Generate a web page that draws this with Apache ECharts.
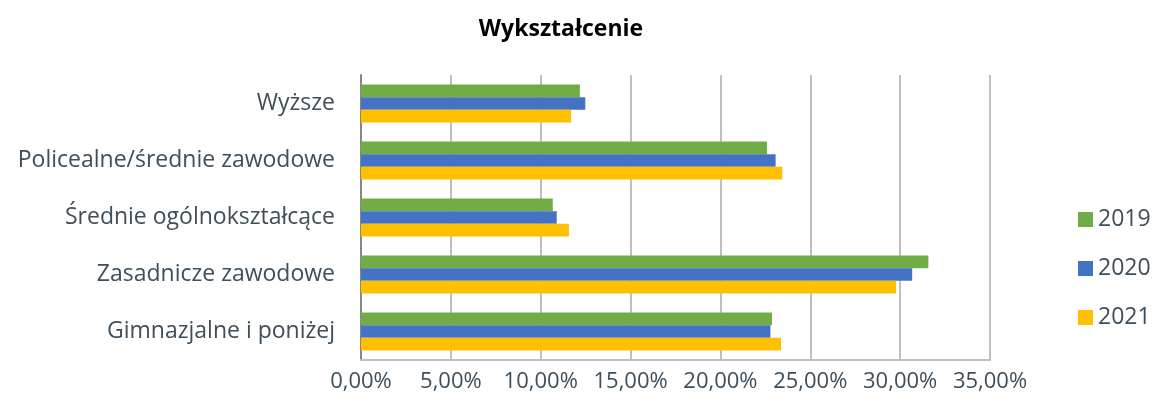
<!DOCTYPE html>
<html><head><meta charset="utf-8">
<script src="https://cdn.jsdelivr.net/npm/echarts@6/dist/echarts.min.js"></script>
<style>html,body{margin:0;padding:0;background:#fff}#c{width:1152px;height:405px}</style>
</head><body><div id="c"></div>
<script>
const categories = ['Gimnazjalne i poniżej', 'Zasadnicze zawodowe', 'Średnie ogólnokształcące', 'Policealne/średnie zawodowe', 'Wyższe'];
const s2019 = [22.87, 31.57, 10.67, 22.59, 12.18];
const s2020 = [22.78, 30.67, 10.89, 23.07, 12.48];
const s2021 = [23.37, 29.78, 11.57, 23.44, 11.69];
const seriesNames = ['2019', '2020', '2021'];
const ticks = [0, 5, 10, 15, 20, 25, 30, 35];

const txt = '#3E4F5B';
const font = 'Open Sans';
const chart = echarts.init(document.getElementById('c'));
const fmt = v => v.toFixed(2).replace('.', ',') + '%';
chart.setOption({
  animation: false,
  title: { text: 'Wykształcenie', left: 556, top: 13, textAlign: 'center',
    textStyle: { fontFamily: font, fontWeight: 'bold', fontSize: 23, color: '#000' } },
  legend: { data: seriesNames, orient: 'vertical', left: 1073, top: 203, itemWidth: 15, itemHeight: 15,
    itemGap: 26, textStyle: { fontFamily: font, fontSize: 23, color: txt }, icon: 'rect' },
  grid: { left: 361, right: 162, top: 75, bottom: 45, containLabel: false },
  xAxis: { type: 'value', min: ticks[0], max: ticks[ticks.length - 1], interval: 5,
    axisLabel: { formatter: fmt, fontFamily: font, fontSize: 22, color: txt, margin: 11 },
    splitLine: { show: true, lineStyle: { color: '#BFBFBF', width: 2 } },
    axisLine: { show: true, lineStyle: { color: '#BFBFBF', width: 2 } },
    axisTick: { show: true, length: 0 } },
  yAxis: { type: 'category', data: categories,
    axisLabel: { fontFamily: font, fontSize: 23, color: txt, margin: 26 },
    axisLine: { show: true, lineStyle: { color: '#868686', width: 2 } },
    axisTick: { show: false } },
  series: [
    { name: '2019', type: 'bar', data: s2019, itemStyle: { color: '#70AD47' }, barWidth: 12.7, barGap: '0%', barCategoryGap: '33%' },
    { name: '2020', type: 'bar', data: s2020, itemStyle: { color: '#4472C4' }, barWidth: 12.7, barGap: '0%' },
    { name: '2021', type: 'bar', data: s2021, itemStyle: { color: '#FFC000' }, barWidth: 12.7, barGap: '0%' }
  ]
});
</script></body></html>
